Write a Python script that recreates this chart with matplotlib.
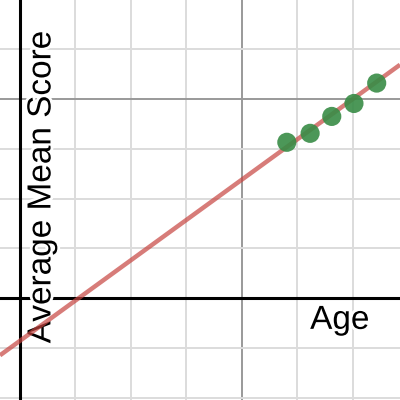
import matplotlib.pyplot as plt
import matplotlib.patheffects as pe
import numpy as np

# data (grid units)
age = [4.81, 5.23, 5.62, 6.02, 6.43]
score = [3.13, 3.31, 3.65, 3.91, 4.32]
fit_slope = 0.81
fit_intercept = -0.86

x_range = (-0.36, 6.85)
y_range = (-2.05, 5.99)


def main():
    fig = plt.figure(figsize=(4, 4), dpi=100)
    ax = fig.add_axes([0, 0, 1, 1])

    # grid: minor every unit, major every 4
    ax.set_xticks(np.arange(0, 8, 4))
    ax.set_xticks(np.arange(0, 8, 1), minor=True)
    ax.set_yticks(np.arange(0, 8, 4))
    ax.set_yticks(np.arange(-2, 7, 1), minor=True)
    ax.grid(which='minor', color='#dcdcdc', linewidth=1.4)
    ax.grid(which='major', color='#999999', linewidth=1.4)
    ax.tick_params(which='both', length=0, labelbottom=False, labelleft=False)
    for s in ax.spines.values():
        s.set_visible(False)
    ax.set_axisbelow(True)

    ax.axhline(0, color='black', linewidth=2.2, zorder=1)
    ax.axvline(0, color='black', linewidth=2.2, zorder=1)

    halo = [pe.withStroke(linewidth=4, foreground='white')]
    ax.text(0.396, 2.23, 'Average Mean Score', rotation=90, ha='center',
            va='center', fontsize=24, family='Liberation Sans',
            path_effects=halo, zorder=2)
    ax.text(5.23, -0.62, 'Age', ha='left', va='baseline', fontsize=24,
            family='Liberation Sans', path_effects=halo, zorder=2)

    xs = np.array(x_range)
    ax.plot(xs, fit_slope * xs + fit_intercept, color='#c74440', alpha=0.7,
            linewidth=3.2, zorder=3, solid_capstyle='butt')
    ax.scatter(age, score, s=190, color='#388c46', alpha=0.9,
               edgecolors='none', zorder=4)

    # limits last so set_ticks can't widen them
    ax.set_xlim(*x_range)
    ax.set_ylim(*y_range)

    fig.savefig('out.png', dpi=100)


if __name__ == '__main__':
    main()
